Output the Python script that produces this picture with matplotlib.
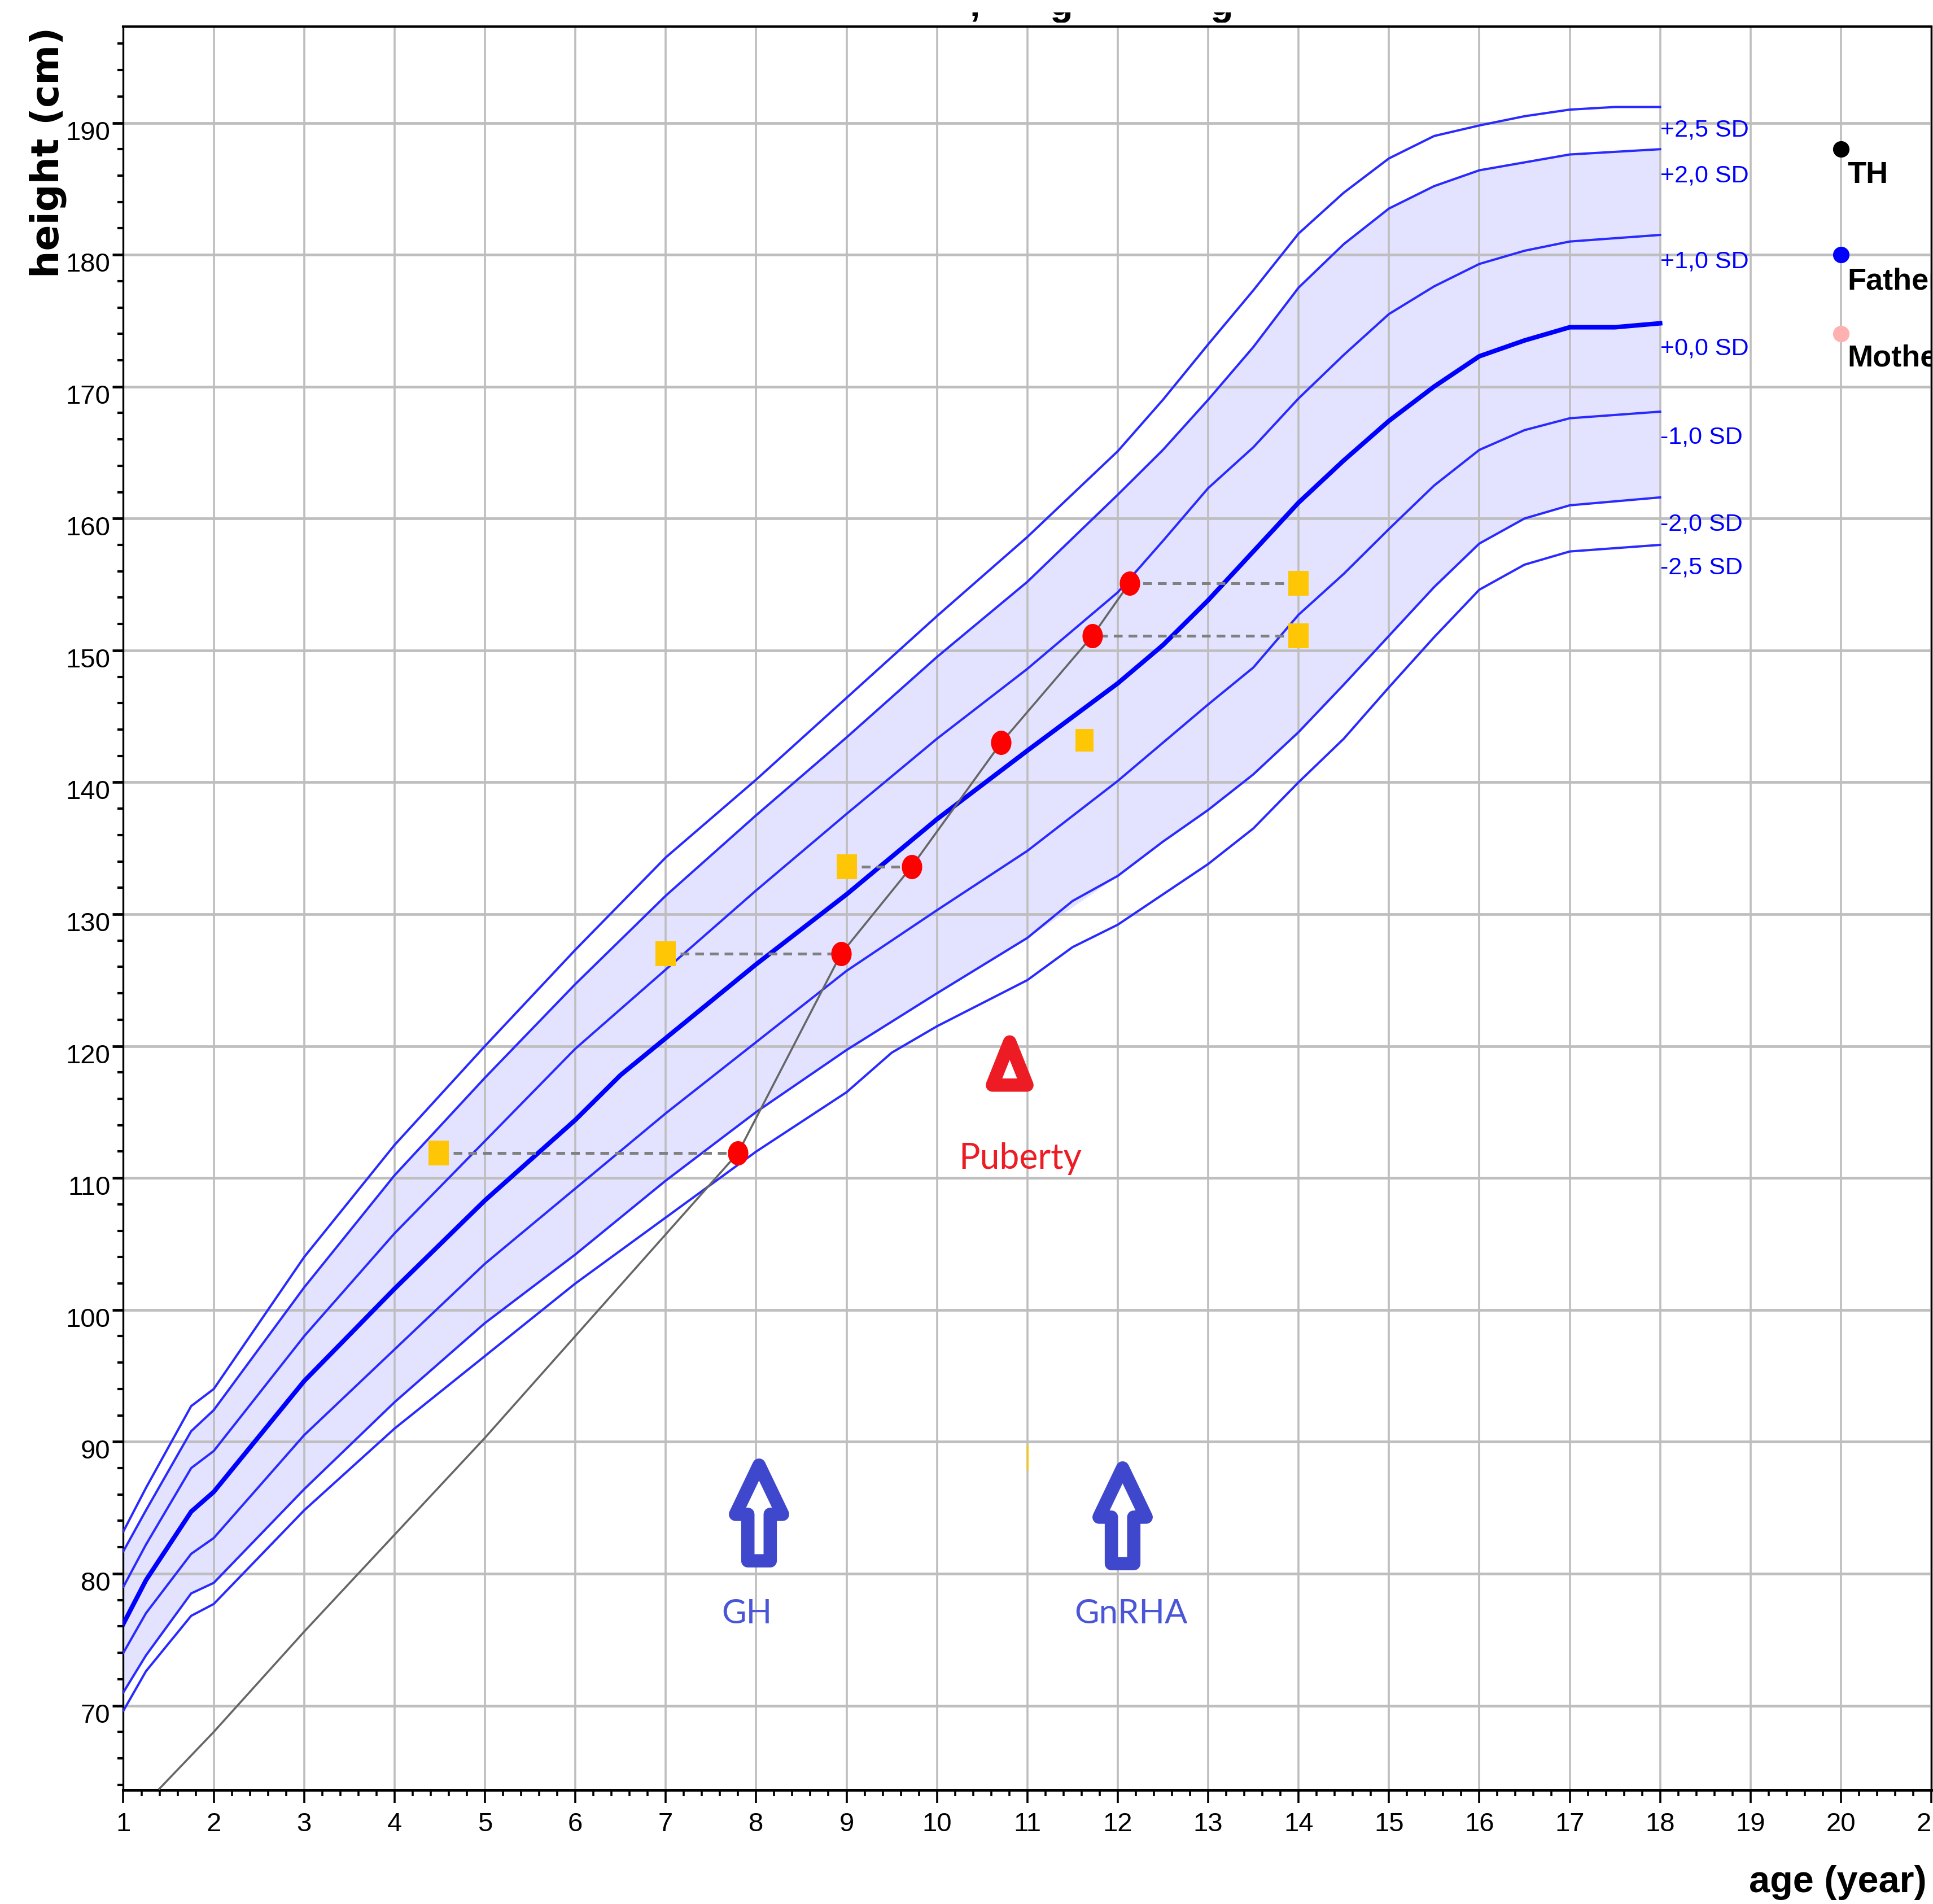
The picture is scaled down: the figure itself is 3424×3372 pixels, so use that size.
import matplotlib
matplotlib.use("Agg")
import matplotlib.pyplot as plt
import numpy as np
from matplotlib.markers import MarkerStyle
from matplotlib.path import Path
from matplotlib.patches import Rectangle
from matplotlib.ticker import MultipleLocator
from matplotlib.transforms import Affine2D

W, H = 3424, 3373
SANS = "Liberation Sans"

# reference curves: one age list and height list per SD line
age_p25 = [1, 1.25, 1.75, 2, 3, 4, 5, 6, 7, 8, 9, 10, 11, 12, 12.5, 13, 13.5, 14, 14.5, 15, 15.5, 16, 16.5, 17, 17.5, 18]
h_p25 = [83.2, 86.5, 92.7, 94, 104, 112.5, 120, 127.3, 134.3, 140.2, 146.4, 152.6, 158.6, 165.1, 169, 173.2, 177.3, 181.6, 184.7, 187.3, 189, 189.8, 190.5, 191, 191.2, 191.2]
age_p20 = [1, 1.25, 1.75, 2, 3, 4, 5, 6, 7, 8, 9, 10, 11, 12, 12.5, 13, 13.5, 14, 14.5, 15, 15.5, 16, 16.5, 17, 18]
h_p20 = [81.7, 84.8, 90.8, 92.4, 101.7, 110.2, 117.6, 124.7, 131.4, 137.5, 143.4, 149.5, 155.2, 161.8, 165.2, 169, 173, 177.5, 180.8, 183.5, 185.2, 186.4, 187, 187.6, 188]
age_p10 = [1, 1.25, 1.75, 2, 3, 4, 5, 6, 7, 8, 9, 10, 11, 12, 12.5, 13, 13.5, 14, 14.5, 15, 15.5, 16, 16.5, 17, 18]
h_p10 = [79, 82.2, 88, 89.3, 98, 105.8, 112.8, 119.8, 125.8, 131.8, 137.6, 143.3, 148.6, 154.4, 158.3, 162.3, 165.4, 169.1, 172.4, 175.5, 177.6, 179.3, 180.3, 181, 181.5]
age_med = [1, 1.25, 1.75, 2, 3, 4, 5, 6, 6.5, 7, 8, 9, 10, 11, 12, 12.5, 13, 13.5, 14, 14.5, 15, 15.5, 16, 16.5, 17, 17.5, 18]
h_med = [76.2, 79.5, 84.7, 86.2, 94.6, 101.6, 108.3, 114.4, 117.8, 120.6, 126.2, 131.5, 137.2, 142.4, 147.5, 150.4, 153.8, 157.5, 161.2, 164.4, 167.4, 170, 172.3, 173.5, 174.5, 174.5, 174.8]
age_m10 = [1, 1.25, 1.75, 2, 3, 4, 5, 6, 7, 8, 9, 10, 11, 12, 12.5, 13, 13.5, 14, 14.5, 15, 15.5, 16, 16.5, 17, 18]
h_m10 = [74, 77, 81.5, 82.7, 90.5, 97, 103.5, 109.2, 114.9, 120.3, 125.7, 130.3, 134.8, 140.1, 143, 145.9, 148.7, 152.7, 155.8, 159.2, 162.5, 165.2, 166.7, 167.6, 168.1]
age_m20 = [1, 1.25, 1.75, 2, 3, 4, 5, 6, 7, 8, 9, 10, 11, 11.5, 12, 12.5, 13, 13.5, 14, 14.5, 15, 15.5, 16, 16.5, 17, 18]
h_m20 = [71, 73.8, 78.5, 79.3, 86.4, 93, 99, 104.2, 109.8, 115, 119.7, 124, 128.2, 131, 132.9, 135.5, 137.9, 140.6, 143.8, 147.4, 151.1, 154.8, 158.1, 160, 161, 161.6]
age_m25 = [1, 1.25, 1.75, 2, 3, 4, 5, 6, 7, 8, 9, 9.5, 10, 11, 11.5, 12, 12.5, 13, 13.5, 14, 14.5, 15, 15.5, 16, 16.5, 17, 18]
h_m25 = [69.6, 72.6, 76.8, 77.7, 84.8, 91, 96.5, 102, 107, 112, 116.5, 119.5, 121.5, 125, 127.5, 129.2, 131.5, 133.8, 136.5, 140, 143.3, 147.2, 151, 154.6, 156.5, 157.5, 158]

sd_labels = ["+2,5 SD", "+2,0 SD", "+1,0 SD", "+0,0 SD", "-1,0 SD", "-2,0 SD", "-2,5 SD"]
sd_label_h = [189.5, 186.0, 179.5, 172.9, 166.2, 159.6, 156.3]

# patient curve
patient_age = [1.4, 2, 3, 5, 7.8, 8.94, 9.72, 10.71, 11.72, 12.13]
patient_h = [63.7, 68, 75.6, 90.3, 111.9, 127, 133.6, 143, 151.1, 155.1]
visit_age = [7.8, 8.94, 9.72, 10.71, 11.72, 12.13]
visit_h = [111.9, 127, 133.6, 143, 151.1, 155.1]
# bone age squares
bone_age = [4.49, 7, 9, 14, 14]
bone_h = [111.9, 127, 133.6, 151.1, 155.1]
bone_link_from = [7.8, 8.94, 9.72, 11.72, 12.13]
extra_bone_age = [11.63]
extra_bone_h = [143.2]

parent_names = ["TH", "Father", "Mother"]
parent_age = [20, 20, 20]
parent_h = [188, 180, 174]
parent_label_h = [186.1, 178, 172.2]
parent_colors = ["black", "#0000ff", "#ffb0b0"]

x_ticks = list(range(1, 22))
y_ticks = list(range(70, 191, 10))

fig = plt.figure(figsize=(W / 100, H / 100), dpi=100)
ax = fig.add_axes([218.5 / W, (H - 3171) / H, (3421 - 218.5) / W, (3171 - 48) / H])
ax.set_xlim(1, 21)
ax.set_ylim(63.6, 197.3)

ax.fill_between(age_p20, h_p20, np.interp(age_p20, age_m20, h_m20), color="#e3e3ff", lw=0, zorder=1)

for ages, hs in [(age_p25, h_p25), (age_p20, h_p20), (age_p10, h_p10),
                 (age_m10, h_m10), (age_m20, h_m20), (age_m25, h_m25)]:
    ax.plot(ages, hs, color="#2a2aff", lw=2.9, zorder=3)
ax.plot(age_med, h_med, color="#0000ff", lw=5.8, zorder=3)

ax.plot(patient_age, patient_h, color="#666666", lw=2.6, zorder=4)

# dashed links between height age and bone age
for a0, a1, h in zip(bone_age, bone_link_from, bone_h):
    ax.plot([a0, a1], [h, h], color="#808080", lw=3.6, dashes=(3.1, 2.1), zorder=4)

oval = MarkerStyle("o", transform=Affine2D().scale(0.84, 1))
box = MarkerStyle("s", transform=Affine2D().scale(0.8, 1))
ax.plot(visit_age, visit_h, ls="none", marker=oval, ms=31, mfc="#ff0000", mew=0, zorder=6)
ax.plot(bone_age, bone_h, ls="none", marker=box, ms=32, mfc="#ffc605", mew=0, zorder=6)
ax.plot(extra_bone_age, extra_bone_h, ls="none", marker=box, ms=29, mfc="#ffc605", mew=0, zorder=6)

# tiny leftovers near 88.8 cm
ax.plot([11, 11], [87.9, 89.7], color="#ffc605", lw=2.2, zorder=3)
ax.plot([5, 6, 10], [88.7, 88.7, 88.7], ls="none", marker="s", ms=2, color="#bbbbbb", mew=0, zorder=3)

for a, h, c in zip(parent_age, parent_h, parent_colors):
    ax.plot([a], [h], ls="none", marker="o", ms=21, mfc=c, mew=0, zorder=6)

# labels of the SD lines
for lab, h in zip(sd_labels, sd_label_h):
    ax.text(18.0, h, lab, color="#0000ff", fontsize=31, family=SANS, va="center", ha="left", zorder=7)

for name, h in zip(parent_names, parent_label_h):
    ax.text(20.07, h, name, fontsize=39, family=SANS, fontweight="bold", va="center", ha="left",
            color="black", clip_on=True, zorder=7)

# puberty marker
tri = MarkerStyle(Path([(-0.4, -0.5), (0.4, -0.5), (0, 0.5), (-0.4, -0.5)], closed=True), joinstyle="round")
ax.plot([10.8], [118.7], ls="none", marker=tri, ms=55, mfc="white", mec="#ed1c24", mew=17, zorder=6)
ax.text(10.92, 111.5, "Puberty", color="#ed1c24", fontsize=45, family="Lato", ha="center", va="center", zorder=7)

# treatment arrows
arrow_verts = [(-0.117, -0.5), (0.117, -0.5), (0.117, -0.014), (0.246, -0.014), (0, 0.5),
               (-0.246, -0.014), (-0.117, -0.014), (-0.117, -0.5)]
arrow = MarkerStyle(Path(arrow_verts, closed=True), joinstyle="round")
ax.plot([8.03, 12.05], [84.6, 84.4], ls="none", marker=arrow, ms=122, mfc="white", mec="#3f48cc", mew=17, zorder=6)
ax.text(7.9, 77.0, "GH", color="#4a55d8", fontsize=43, family="Lato", ha="center", va="center", zorder=7)
ax.text(12.15, 77.0, "GnRHA", color="#4a55d8", fontsize=43, family="Lato", ha="center", va="center", zorder=7)

# axes
ax.set_xticks(x_ticks)
ax.set_yticks(y_ticks)
ax.xaxis.set_minor_locator(MultipleLocator(0.2))
ax.yaxis.set_minor_locator(MultipleLocator(2))
ax.grid(True, which="major", axis="x", color="#bebebe", lw=2.6)
ax.grid(True, which="major", axis="y", color="#bebebe", lw=3.4)
ax.tick_params(axis="x", which="major", length=16.5, width=2.6, pad=11, labelsize=34, direction="out")
ax.tick_params(axis="x", which="minor", length=8, width=2.6, direction="out")
ax.tick_params(axis="y", which="major", length=13.5, width=3.4, pad=3, labelsize=34, direction="out")
ax.tick_params(axis="y", which="minor", length=7, width=3, direction="out")
for lab in ax.get_xticklabels() + ax.get_yticklabels():
    lab.set_family(SANS)
for lab in ax.get_yticklabels():
    lab.set_transform(lab.get_transform() + Affine2D().translate(0, -12))
ax.spines["left"].set_linewidth(2.4)
ax.spines["right"].set_linewidth(2.4)
ax.spines["top"].set_linewidth(3)
ax.spines["bottom"].set_linewidth(3.6)

fig.text(85 / W, 1 - 270 / H, "height (cm)", rotation=90, fontsize=49, fontweight="bold",
         family="DejaVu Sans", ha="center", va="center")
fig.text(3413 / W, 1 - 3334 / H, "age (year)", fontsize=48, fontweight="bold", family=SANS,
         ha="right", va="center")

# what is left of the title, cut off by the top of the picture
clip = Rectangle((0, H - 41), W, 18, transform=None)
for ch, px in zip([",", "g", "g"], [1727, 1880, 2164]):
    t = fig.text(px / W, 1 - 27 / H, ch, fontsize=48, fontweight="bold", family=SANS,
                 ha="center", va="baseline")
    t.set_clip_path(clip)
    t.set_clip_on(True)
fig.text(1430 / W, 1 + 10 / H, "_", fontsize=44, fontweight="bold", family=SANS, ha="center", va="baseline")

fig.savefig("out.png", dpi=100)
